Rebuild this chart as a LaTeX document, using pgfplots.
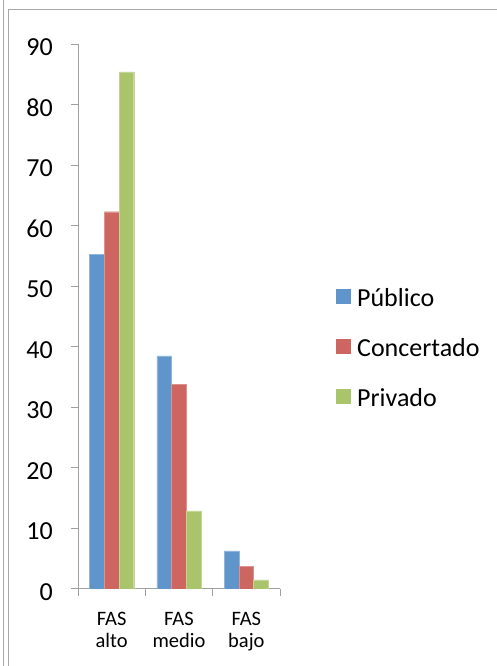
\documentclass[border=0pt]{standalone}
\usepackage{fontspec}
\setmainfont{Carlito}
\usepackage{pgfplots}
\pgfplotsset{compat=1.18}
\definecolor{cBlue}{RGB}{96,149,204}
\definecolor{cRed}{RGB}{205,101,96}
\definecolor{cGreen}{RGB}{170,196,107}
\definecolor{axgray}{RGB}{160,160,160}
\definecolor{framegray}{RGB}{168,168,168}
\begin{document}
\begin{tikzpicture}
\useasboundingbox (0pt,0pt) rectangle (497pt,666pt);
\draw[framegray, line width=1pt] (3pt,0pt) -- (3pt,666pt);
\draw[framegray, line width=1pt] (8pt,0pt) -- (8pt,656pt) -- (497pt,656pt);
\begin{axis}[
  at={(78pt,77pt)}, anchor=south west,
  scale only axis, width=202pt, height=545pt,
  xmin=-0.5, xmax=2.5, ymin=0, ymax=90,
  axis lines*=left,
  axis line style={axgray, line width=1pt},
  tick align=outside,
  major tick length=7pt, minor tick length=7pt,
  every tick/.style={axgray, line width=1pt},
  ytick={0,10,...,90},
  xtick={0,1,2},
  xticklabels={{FAS\\alto},{FAS\\medio},{FAS\\bajo}},
  minor xtick={-0.5,0.5,1.5,2.5},
  major x tick style={draw=none},
  /pgf/number format/assume math mode=true,
  yticklabel style={anchor=east, inner sep=0pt, xshift=-18pt, yshift=-3pt, font=\fontsize{26}{26}\selectfont, text=black},
  xticklabel style={anchor=north, inner sep=0pt, align=center, yshift=-16pt, font=\fontsize{20.5}{22}\selectfont, text=black},
  ybar=0pt, bar width=14.7pt,
  legend style={at={(1.277,0.4257)}, anchor=west, draw=none, fill=none, inner sep=0pt, column sep=6pt, row sep=0pt,
    nodes={inner sep=0pt, text height=25pt, text depth=25pt, font=\fontsize{26}{26}\selectfont}},
  legend cell align=left,
  legend image code/.code={\path[draw=none,fill=none] (0pt,-17.5pt) rectangle (15pt,17.5pt); \fill[#1,draw=none] (0pt,3pt) rectangle (15pt,17.5pt);},
]
\addplot[fill=cBlue, draw=cBlue!70!white, line width=0.4pt] coordinates {(0,55.3) (1,38.5) (2,6.3)};
\addplot[fill=cRed, draw=cRed!70!white, line width=0.4pt] coordinates {(0,62.3) (1,33.8) (2,3.7)};
\addplot[fill=cGreen, draw=cGreen!70!white, line width=0.4pt] coordinates {(0,85.4) (1,12.9) (2,1.5)};
\legend{Público, Concertado, Privado}
\end{axis}
\end{tikzpicture}
\end{document}
